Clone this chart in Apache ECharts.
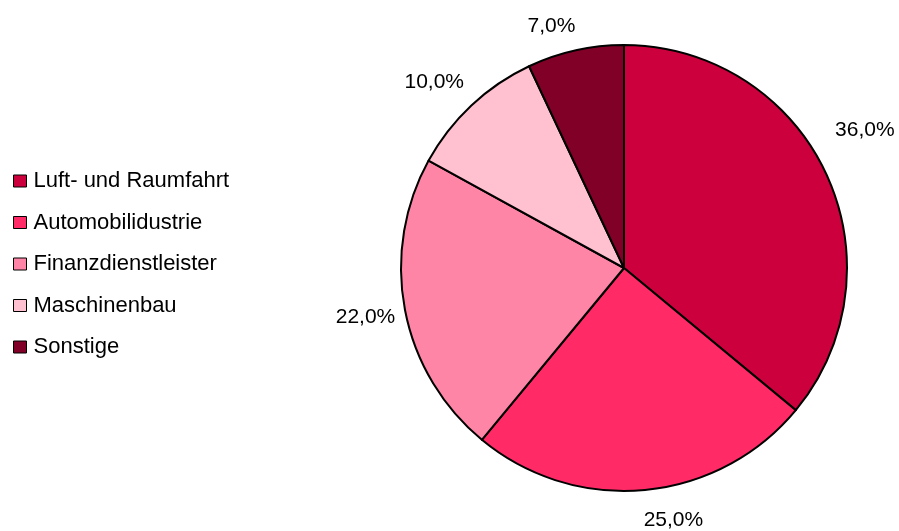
<!DOCTYPE html>
<html><head><meta charset="utf-8">
<script src="https://cdn.jsdelivr.net/npm/echarts@6/dist/echarts.min.js"></script>
<style>html,body{margin:0;padding:0;background:#fff}#c{width:899px;height:531px}</style>
</head><body><div id="c"></div>
<script>
var categories = ['Luft- und Raumfahrt', 'Automobilidustrie', 'Finanzdienstleister', 'Maschinenbau', 'Sonstige'];
var values = [36.0, 25.0, 22.0, 10.0, 7.0];
var colors = ['#CC003C', '#FF2A66', '#FF85A6', '#FFC0D0', '#800028'];
// per-slice label nudges (style only)
var labelNudge = [[-12, -35], [-8, 12], [13, 4], [10, -10], [9, -7]];

var chart = echarts.init(document.getElementById('c'));
chart.setOption({
  animation: false,
  color: colors,
  legend: {
    orient: 'vertical', left: 13, top: 170, padding: 0,
    itemWidth: 13, itemHeight: 12, itemGap: 19.5,
    icon: 'rect',
    itemStyle: {borderColor: '#000', borderWidth: 1},
    textStyle: {fontFamily: 'Liberation Sans', fontSize: 22, color: '#000', lineHeight: 22, padding: [0, 0, 0, 2]},
    data: categories
  },
  series: [{
    type: 'pie',
    center: [624, 268], radius: 223,
    startAngle: 90, clockwise: true,
    itemStyle: {borderColor: '#000', borderWidth: 2},
    label: {
      show: true, position: 'outside', overflow: 'none',
      formatter: function (p) { return p.value.toFixed(1).replace('.', ',') + '%'; },
      fontFamily: 'Liberation Sans', fontSize: 21, color: '#000'
    },
    labelLine: {show: false, length: 18, length2: 0},
    labelLayout: function (p) {
      var n = labelNudge[p.dataIndex];
      return {dx: n[0], dy: n[1]};
    },
    emphasis: {disabled: true},
    data: categories.map(function (c, i) { return {name: c, value: values[i]}; })
  }]
});
</script></body></html>
